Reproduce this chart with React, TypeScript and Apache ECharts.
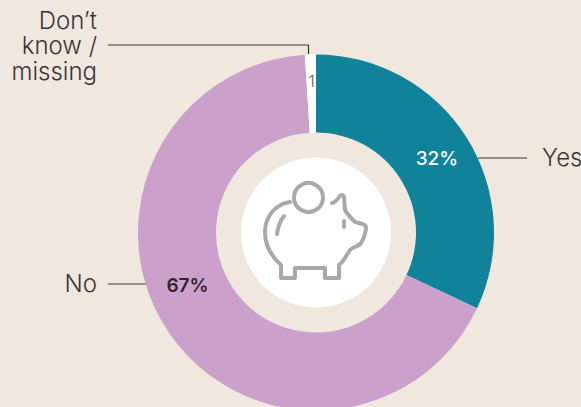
import React, { useEffect, useRef } from "react";
import * as echarts from "echarts";

const categories = ["Yes", "No", "Don’t know / missing"];
const values = [32, 67, 1];
const valueLabels = ["32%", "67%", "1"];
const sliceColors = ["#10829A", "#CBA0CA", "#FFFFFF"];
const dontKnowLines = ["Don’t", "know /", "missing"];

const FONT = "Inter, Lato, sans-serif";
const INK = "#3A3436";
const PIG =
  "M290 202 C276 204 265 216 265 232 C265 246 272 257 281 265 L281 278 L295 278 L295 268 L325 268 L325 278 L339 278 L339 265 C345 260 347 254 350 250 C353 246 359 247 361 243 C364 238 366 232 366 227 C365 223 360 224 355 222 C351 218 347 214 345 210 L344 197 C343 194 341 195 340 196 C337 200 335 203 332 203 M284 216 C280 221 278 227 277 234 M344 221 L344 227";

export default function App() {
  const ref = useRef<HTMLDivElement>(null);
  useEffect(() => {
    document.body.style.margin = "0";
    const chart = echarts.init(ref.current!, null, { renderer: "svg" });
    echarts.graphic.registerShape("piggy", echarts.graphic.extendPath(PIG, {}));
    const labelOffsets: number[][] = [[1, 2], [-11, -27], [0, -10]];
    const labelStyles = [
      { color: "#FFFFFF", fontSize: 19, fontWeight: 500 },
      { color: "#2E2729", fontSize: 19, fontWeight: 600 },
      { color: "#5E5A5A", fontSize: 16, fontWeight: 300 },
    ];
    const line = (x1: number, y1: number, x2: number, y2: number) => ({
      type: "line",
      shape: { x1, y1, x2, y2 },
      style: { stroke: "#3A3234", lineWidth: 1.2 },
      silent: true,
    });
    const text = (t: string, x: number, y: number, align: string) => ({
      type: "text",
      x,
      y,
      silent: true,
      style: {
        text: t,
        x: 0,
        y: 0,
        align,
        verticalAlign: "middle",
        lineHeight: 25.5,
        fill: INK,
        font: `300 24px ${FONT}`,
      },
    });
    chart.setOption({
      animation: false,
      backgroundColor: "#F0E8DE",
      series: [
        {
          type: "pie",
          center: [316, 232.5],
          radius: [100, 178],
          startAngle: 90,
          clockwise: true,
          silent: true,
          labelLine: { show: false },
          data: categories.map((name, i) => ({
            name,
            value: values[i],
            itemStyle: { color: sliceColors[i] },
            label: {
              show: true,
              position: "inside",
              formatter: valueLabels[i],
              fontFamily: FONT,
              offset: labelOffsets[i],
              ...labelStyles[i],
            },
          })),
        },
      ],
      graphic: [
        { type: "circle", shape: { cx: 316, cy: 232.5, r: 75 }, style: { fill: "#FFFFFF" }, silent: true },
        {
          type: "piggy",
          x: 0,
          y: 0,
          silent: true,
          style: { fill: "none", stroke: "#A9A9AB", lineWidth: 4, lineCap: "round", lineJoin: "round" },
        },
        {
          type: "circle",
          shape: { cx: 308.5, cy: 197.5, r: 14.5 },
          style: { fill: "none", stroke: "#A9A9AB", lineWidth: 4 },
          silent: true,
        },
        line(108, 45, 308.5, 45),
        line(308.5, 45, 308.5, 54),
        line(478, 158, 527, 158),
        line(108, 284, 146, 284),
        text(dontKnowLines.join("\n"), 97, 45.5, "right"),
        text(categories[0], 542, 157, "left"),
        text(categories[1], 97, 283, "right"),
      ],
    });
    return () => chart.dispose();
  }, []);
  return <div ref={ref} style={{ width: 581, height: 407, position: "absolute", left: 0, top: 0 }} />;
}
